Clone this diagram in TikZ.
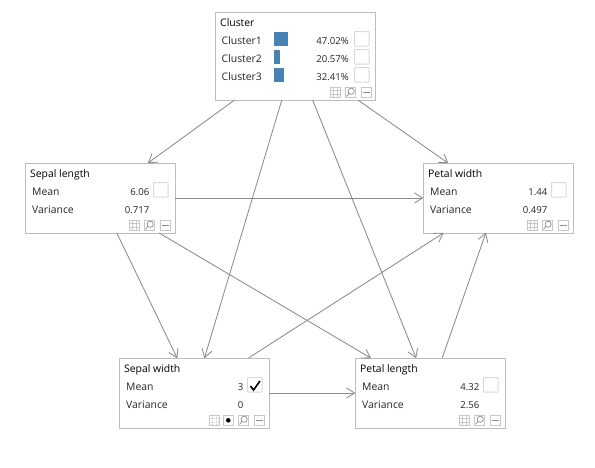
\documentclass[tikz,border=0pt]{standalone}
\usepackage{fontspec}
\setmainfont{Open Sans}
\usetikzlibrary{arrows.meta}
\definecolor{boxline}{HTML}{BDBDBD}
\definecolor{iconline}{HTML}{C8C8C8}
\definecolor{edgecol}{HTML}{8C8C8C}
\definecolor{barblue}{HTML}{4682B4}
\tikzset{
  x=1pt,y=-1pt,
  boxnode/.style={draw=boxline,line width=1pt,fill=white,inner sep=0pt,outer sep=0pt,minimum width=150pt,minimum height=70pt},
  ttl/.style={anchor=base west,inner sep=0pt,font=\fontsize{10.4}{12}\selectfont,text=black},
  lbl/.style={anchor=base west,inner sep=0pt,font=\fontsize{10.4}{12}\selectfont,text=black!85},
  val/.style={anchor=base east,inner sep=0pt,font=\fontsize{9.6}{12}\selectfont,text=black!85},
  chk/.style={draw=black!15,line width=1pt,rounded corners=0.5pt},
  icon/.style={draw=iconline,line width=0.7pt},
  edge/.style={draw=edgecol,line width=0.85pt,-{Straight Barb[length=8pt,width=10pt,line width=0.85pt,round=false]}}
}
\newcommand{\gridicon}[2]{%
  \draw[icon] (#1,#2) rectangle ++(10.5,10.5);
  \draw[icon] ({#1+3.5},#2) -- ++(0,10.5) ({#1+7},#2) -- ++(0,10.5) (#1,{#2+3.5}) -- ++(10.5,0) (#1,{#2+7}) -- ++(10.5,0);}
\newcommand{\lensicon}[2]{%
  \draw[icon] (#1,#2) rectangle ++(10.5,10.5);
  \draw[draw=black!55,line width=0.55pt] ({#1+6.2},{#2+4.2}) circle (3.1) ({#1+4},{#2+6.5}) -- ({#1+1.5},{#2+9.3});}
\newcommand{\minusicon}[2]{%
  \draw[icon] (#1,#2) rectangle ++(10.5,10.5);
  \draw[draw=black!45,line width=0.7pt] ({#1+2},{#2+5.3}) -- ({#1+8.5},{#2+5.3});}
\newcommand{\doticon}[2]{%
  \draw[icon] (#1,#2) rectangle ++(10.5,10.5);
  \fill[black] ({#1+5.3},{#2+5.3}) circle (2.3);}
\newcommand{\faintgrid}[2]{%
  \draw[icon] (#1,#2) rectangle ++(10.5,10.5);
  \draw[icon,densely dotted] ({#1+3.5},#2) -- ++(0,10.5) ({#1+7},#2) -- ++(0,10.5) (#1,{#2+3.5}) -- ++(10.5,0) (#1,{#2+7}) -- ++(10.5,0);}
\newcommand{\placebox}[3]{\node[boxnode] (#1) at ({#2+75},{#3+35}) {};}
\newcommand{\fillbox}[6]{%
  \node[ttl] (#1-t) at ({#2+5},{#3+14}) {#4};
  \node[lbl] (#1-m) at ({#2+7},{#3+32}) {Mean};
  \node[lbl] (#1-v) at ({#2+7},{#3+50}) {Variance};
  \node[val] (#1-mv) at ({#2+124.5},{#3+32}) {#5};
  \node[val] (#1-vv) at ({#2+124.5},{#3+50}) {#6};
  \draw[chk] ({#2+128.5},{#3+19.5}) rectangle ++(14.5,14.5);
  \lensicon{\the\numexpr#2+119\relax}{\the\numexpr#3+57\relax}
  \minusicon{\the\numexpr#2+135\relax}{\the\numexpr#3+57\relax}}
\begin{document}
\begin{tikzpicture}
\useasboundingbox (0,0) rectangle (595,467);
\fill[white] (0,0) rectangle (595,467);
\node[boxnode,minimum width=160pt,minimum height=88pt] (cl) at (295,56) {};
\placebox{sl}{25}{163}
\placebox{pw}{423}{163}
\placebox{sw}{119}{358}
\placebox{pl}{355}{358}
\draw[edge] (cl) -- (sl);
\draw[edge] (cl) -- (sw);
\draw[edge] (cl) -- (pl);
\draw[edge] (cl) -- (pw);
\draw[edge] (sl) -- (pw);
\draw[edge] (sl) -- (sw);
\draw[edge] (sl) -- (pl);
\draw[edge] (sw) -- (pw);
\draw[edge] (sw) -- (pl);
\draw[edge] (pl) -- (pw);
\node[ttl] (cl-t) at (220,26) {Cluster};
\foreach \n/\yy/\bw/\pc in {1/32/14/47.02\%,2/50/6/20.57\%,3/68/9.5/32.41\%}{
  \node[lbl] (cl-l\n) at (221.5,{\yy+12}) {Cluster\n};
  \fill[barblue] (274,\yy) rectangle ++(\bw,14);
  \node[val] (cl-p\n) at (349,{\yy+12}) {\pc};
  \draw[chk] (354.5,{\yy-0.5}) rectangle ++(14.5,14.5);
}
\gridicon{330}{87}
\lensicon{345}{87}
\minusicon{361}{87}
\fillbox{sl}{25}{163}{Sepal length}{6.06}{0.717}
\gridicon{129}{220}
\fillbox{pw}{423}{163}{Petal width}{1.44}{0.497}
\gridicon{527}{220}
\fillbox{sw}{119}{358}{Sepal width}{3}{0}
\faintgrid{209}{415}
\doticon{223}{415}
\draw[black,line width=1.6pt] (250.5,386) -- (253.5,390) -- (260,381);
\fillbox{pl}{355}{358}{Petal length}{4.32}{2.56}
\gridicon{459}{415}
\end{tikzpicture}
\end{document}
